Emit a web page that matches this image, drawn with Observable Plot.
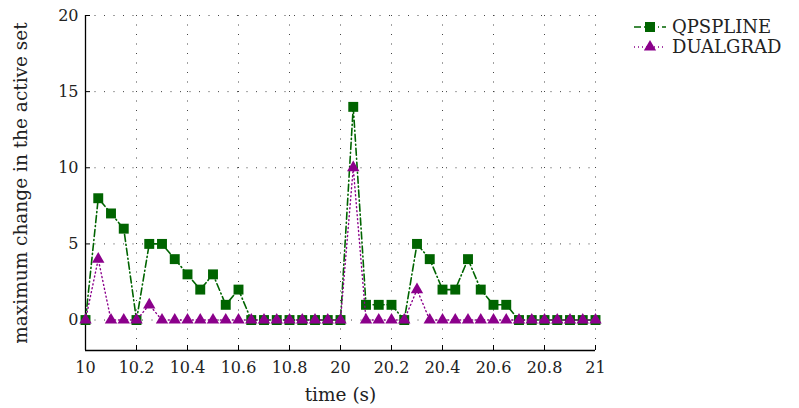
<!DOCTYPE html>
<html>
<head>
<meta charset="utf-8">
<script src="https://cdn.jsdelivr.net/npm/d3@7"></script>
<script src="https://cdn.jsdelivr.net/npm/@observablehq/plot@0.6"></script>
<style>
  html, body { margin: 0; padding: 0; background: #fff; }
  #wrap { position: relative; width: 799px; height: 408px; }
  #legend { position: absolute; left: 630px; top: 13px; }
</style>
</head>
<body>
<div id="wrap">
  <div id="chart"></div>
  <svg id="legend" width="169" height="48"></svg>
</div>
<script>
// time stamps (s): two windows, drawn on a broken axis
const times = [10, 10.05, 10.1, 10.15, 10.2, 10.25, 10.3, 10.35, 10.4, 10.45,
               10.5, 10.55, 10.6, 10.65, 10.7, 10.75, 10.8, 10.85, 10.9, 10.95,
               20, 20.05, 20.1, 20.15, 20.2, 20.25, 20.3, 20.35, 20.4, 20.45,
               20.5, 20.55, 20.6, 20.65, 20.7, 20.75, 20.8, 20.85, 20.9, 20.95, 21];
const qpspline = [0, 8, 7, 6, 0, 5, 5, 4, 3, 2, 3, 1, 2, 0, 0, 0, 0, 0, 0, 0,
                  0, 14, 1, 1, 1, 0, 5, 4, 2, 2, 4, 2, 1, 1, 0, 0, 0, 0, 0, 0, 0];
const dualgrad = [0, 4, 0, 0, 0, 1, 0, 0, 0, 0, 0, 0, 0, 0, 0, 0, 0, 0, 0, 0,
                  0, 10, 0, 0, 0, 0, 2, 0, 0, 0, 0, 0, 0, 0, 0, 0, 0, 0, 0, 0, 0];
const seriesNames = ["QPSPLINE", "DUALGRAD"];
const xTickLabels = ["10", "10.2", "10.4", "10.6", "10.8", "20", "20.2", "20.4", "20.6", "20.8", "21"];
const yTicks = [0, 5, 10, 15, 20];

const GREEN = "#006400", PURPLE = "#8b008b";
// broken axis: times >= 20 are placed right after the first window
const pos = t => (t >= 15 ? t - 9 : t);
const xTicks = xTickLabels.map(s => pos(+s));
const labelOf = new Map(xTicks.map((p, i) => [+p.toFixed(3), xTickLabels[i]]));

const qp = times.map((t, i) => ({p: pos(t), v: qpspline[i]}));
const dg = times.map((t, i) => ({p: pos(t), v: dualgrad[i]}));

const W = 799, H = 408, mL = 85, mR = 204, mT = 15, mB = 58;
const innerW = W - mL - mR, innerH = H - mT - mB;
const gridStyle = {stroke: "#444", strokeOpacity: 1, strokeWidth: 1, strokeDasharray: "1,8.5"};

const chart = Plot.plot({
  width: W, height: H,
  marginLeft: mL, marginRight: mR, marginTop: mT, marginBottom: mB,
  style: {fontFamily: "DejaVu Serif, serif", fontSize: "16px", color: "#222", background: "#fff"},
  x: {domain: [10, 12]},
  y: {domain: [-2, 20]},
  marks: [
    Plot.gridX(xTicks, {...gridStyle}),
    Plot.gridY(yTicks, {...gridStyle}),
    Plot.ruleY([-2], {stroke: "#000", strokeWidth: 1.3}),
    Plot.ruleX([10], {stroke: "#000", strokeWidth: 1.3}),
    Plot.tickX(xTicks, {x: d => d, insetTop: innerH - 5, stroke: "#000"}),
    Plot.tickY(yTicks, {y: d => d, insetRight: innerW - 5, stroke: "#000"}),
    Plot.axisX(xTicks, {tickSize: 0, tickPadding: 11, tickFormat: d => labelOf.get(+d.toFixed(3)),
      label: "time (s)", labelAnchor: "center", labelOffset: 50, labelArrow: "none"}),
    Plot.axisY(yTicks, {tickSize: 0, tickPadding: 7, label: "maximum change in the active set",
      labelAnchor: "center", labelOffset: 72, labelArrow: "none"}),
    Plot.line(qp, {x: "p", y: "v", stroke: GREEN, strokeWidth: 1.6, strokeDasharray: "7,3,1,3"}),
    Plot.dot(qp, {x: "p", y: "v", symbol: "square", r: 5.6, fill: GREEN, stroke: "none"}),
    Plot.line(dg, {x: "p", y: "v", stroke: PURPLE, strokeWidth: 1.4, strokeDasharray: "1,3"}),
    Plot.dot(dg, {x: "p", y: "v", symbol: "triangle", r: 4.6, fill: PURPLE, stroke: "none"})
  ]
});
// axis titles in the reference are set a little larger than tick labels
d3.select(chart).selectAll('g[aria-label="x-axis label"] text, g[aria-label="y-axis label"] text')
  .style("font-size", "18.5px");
document.getElementById("chart").appendChild(chart);

// legend
const lg = d3.select("#legend");
const styles = [
  {color: GREEN, dash: "7,3,1,3", sym: d3.symbolSquare, size: 100},
  {color: PURPLE, dash: "1,3", sym: d3.symbolTriangle, size: 65}
];
seriesNames.forEach((name, i) => {
  const y = 14 + i * 20;
  const s = styles[i];
  lg.append("line").attr("x1", 4).attr("x2", 36).attr("y1", y).attr("y2", y)
    .attr("stroke", s.color).attr("stroke-width", 1.5).attr("stroke-dasharray", s.dash);
  lg.append("path").attr("d", d3.symbol(s.sym, s.size)()).attr("transform", `translate(20,${y})`)
    .attr("fill", s.color);
  lg.append("text").attr("x", 42).attr("y", y).attr("dy", "0.36em").attr("fill", "#222")
    .style("font-family", "DejaVu Serif, serif").style("font-size", "18px").text(name);
});
</script>
</body>
</html>
